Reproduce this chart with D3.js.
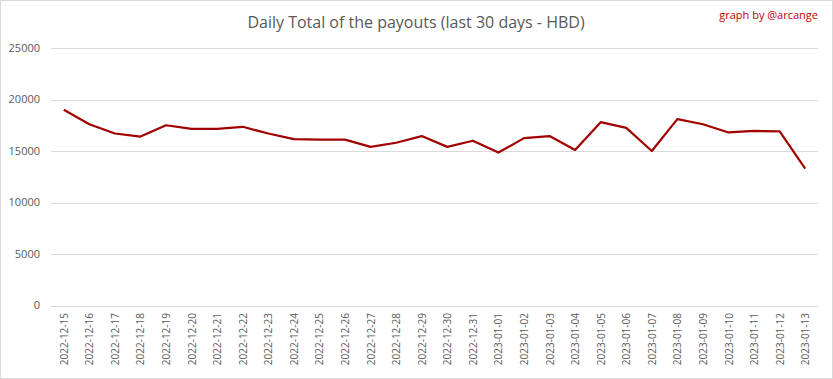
<!DOCTYPE html>
<html><head><meta charset="utf-8">
<script src="https://cdn.jsdelivr.net/npm/d3@7"></script>
<style>body{margin:0;background:#fff;} svg{display:block;}</style>
</head><body>
<svg id="c" width="833" height="379"></svg>
<script>
const dates = ["2022-12-15","2022-12-16","2022-12-17","2022-12-18","2022-12-19","2022-12-20","2022-12-21","2022-12-22","2022-12-23","2022-12-24","2022-12-25","2022-12-26","2022-12-27","2022-12-28","2022-12-29","2022-12-30","2022-12-31","2023-01-01","2023-01-02","2023-01-03","2023-01-04","2023-01-05","2023-01-06","2023-01-07","2023-01-08","2023-01-09","2023-01-10","2023-01-11","2023-01-12","2023-01-13"];
const payouts = [19000,17600,16700,16400,17500,17150,17150,17350,16700,16150,16100,16100,15400,15800,16450,15400,16000,14850,16250,16450,15100,17800,17250,15000,18100,17600,16800,16950,16900,13300];
const yTicks = [0,5000,10000,15000,20000,25000];
const title = "Daily Total of the payouts (last 30 days - HBD)";
const credit = "graph by @arcange";

const svg = d3.select("#c");
const W=833,H=379;
const font = "'Open Sans', 'Liberation Sans', sans-serif";
svg.append("rect").attr("x",0.5).attr("y",0.5).attr("width",W-1).attr("height",H-1).attr("fill","#fff").attr("stroke","#d9d9d9");

const mL=51,mR=818,mT=48,mB=305.5;
const x = d3.scaleBand().domain(dates).range([mL,mR]);
const y = d3.scaleLinear().domain([0,25000]).range([mB,mT]);

const g = svg.append("g");
g.selectAll("line.grid").data(yTicks).join("line").attr("class","grid")
  .attr("x1",mL).attr("x2",mR)
  .attr("y1",d=>Math.round(y(d))+0.5).attr("y2",d=>Math.round(y(d))+0.5)
  .attr("stroke","#d9d9d9").attr("stroke-width",1);

g.selectAll("text.yl").data(yTicks).join("text").attr("class","yl")
  .attr("x",40).attr("y",d=>y(d)).attr("dy","0.35em").attr("text-anchor","end")
  .attr("font-family",font).attr("font-size",11).attr("fill","#595959").text(d=>d);

g.selectAll("text.xl").data(dates).join("text").attr("class","xl")
  .attr("transform",d=>`translate(${x(d)+x.bandwidth()/2+4},313) rotate(-90)`)
  .attr("text-anchor","end")
  .attr("font-family",font).attr("font-size",10).attr("fill","#595959").text(d=>d);

const line = d3.line().x((d,i)=>x(dates[i])+x.bandwidth()/2).y(d=>y(d));
g.append("path").datum(payouts).attr("d",line).attr("fill","none")
  .attr("stroke","#a00000").attr("stroke-width",2.2).attr("stroke-linejoin","round");

svg.append("text").attr("x",416).attr("y",28).attr("text-anchor","middle")
  .attr("font-family",font).attr("font-size",16).attr("fill","#595959").text(title);
svg.append("text").attr("x",818).attr("y",19).attr("text-anchor","end")
  .attr("font-family",font).attr("font-size",11).attr("fill","#c00000").text(credit);
</script>
</body></html>
